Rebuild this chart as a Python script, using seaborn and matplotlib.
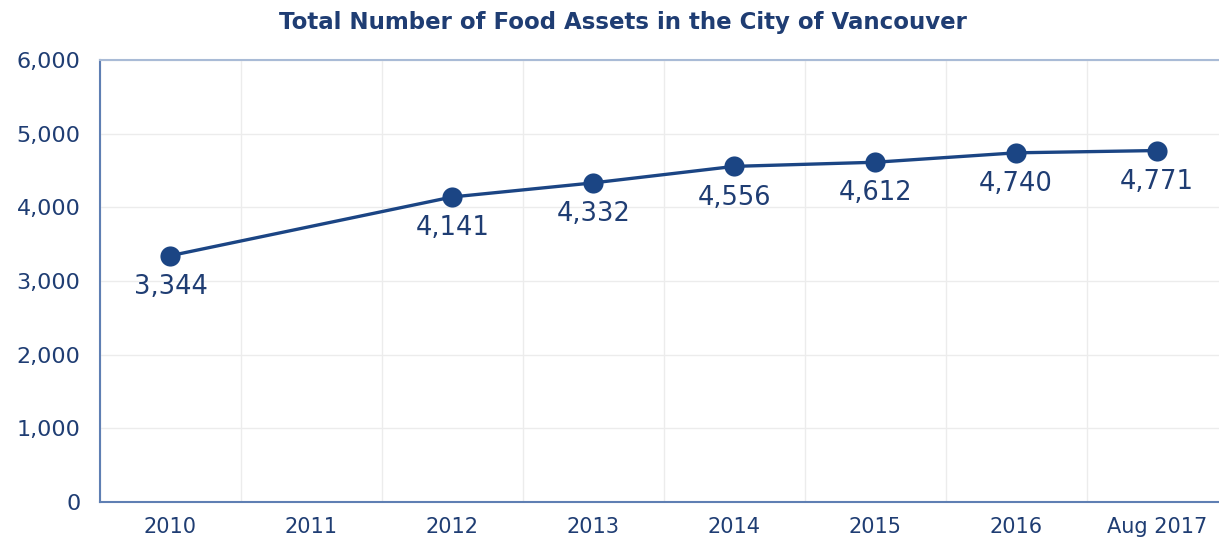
import numpy as np
import pandas as pd
import matplotlib
matplotlib.use("Agg")
import matplotlib.pyplot as plt
import seaborn as sns
from matplotlib.ticker import FuncFormatter, MultipleLocator

categories = ["2010", "2011", "2012", "2013", "2014", "2015", "2016", "Aug 2017"]
values = [3344, np.nan, 4141, 4332, 4556, 4612, 4740, 4771]
yticks = [0, 1000, 2000, 3000, 4000, 5000, 6000]
title = "Total Number of Food Assets in the City of Vancouver"

navy = "#1b4584"
text_c = "#1f3d73"
spine_c = "#5f7fb3"
top_c = "#a9bbd6"
grid_c = "#ececec"

sns.set_theme(style="white")
plt.rcParams['font.family'] = ['DejaVu Sans']

df = pd.DataFrame({"pos": np.arange(len(categories)), "value": values})

fig = plt.figure(figsize=(12.19, 5.39), dpi=100)
ax = fig.add_axes([100/1219, 1 - 502/539, 1 - 100/1219, (502-60)/539])

sns.lineplot(data=df.dropna(), x="pos", y="value", ax=ax, color=navy, linewidth=2.4,
             marker="o", markersize=14.5, markeredgewidth=0, zorder=5)

ax.set_xlim(-0.5, 7.44)
ax.set_ylim(0, 6000)
ax.set_yticks(yticks)
ax.yaxis.set_major_formatter(FuncFormatter(lambda v, p: f"{int(v):,}"))
ax.set_xticks(np.arange(len(categories)))
ax.set_xticklabels(categories)
ax.xaxis.set_minor_locator(MultipleLocator(1, offset=0.5))
ax.grid(False)
ax.grid(axis="y", which="major", color=grid_c, linewidth=1)
ax.grid(axis="x", which="minor", color=grid_c, linewidth=1)
ax.tick_params(axis="both", which="both", length=0)
ax.tick_params(axis="y", labelsize=16, labelcolor=text_c, pad=14)
ax.tick_params(axis="x", labelsize=15, labelcolor=text_c, pad=11)
ax.set_xlabel("")
ax.set_ylabel("")

for s in ["left", "bottom"]:
    ax.spines[s].set_color(spine_c)
    ax.spines[s].set_linewidth(1.5)
ax.spines["top"].set_color(top_c)
ax.spines["top"].set_linewidth(1.5)
ax.spines["right"].set_visible(False)

for x, v in zip(df["pos"], df["value"]):
    if np.isnan(v):
        continue
    ax.annotate(f"{int(v):,}", (x, v), xytext=(0, -22.5), textcoords="offset points",
                ha="center", va="center", fontsize=18.5, color=text_c, zorder=6)

fig.text(623/1219, 1 - 22/539, title, ha="center", va="center", fontsize=16.5,
         fontweight="bold", color=text_c)

fig.savefig("out.png", dpi=100, facecolor="white")
